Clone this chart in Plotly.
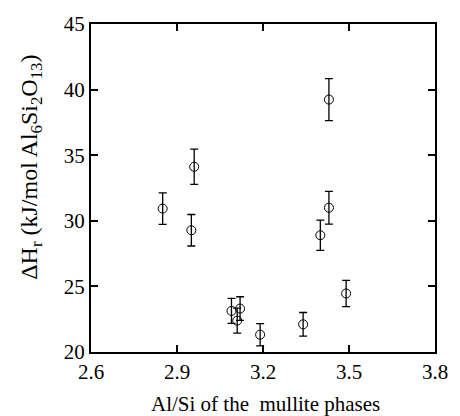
import plotly.graph_objects as go

al_si = [2.85, 2.96, 2.95, 3.09, 3.11, 3.12, 3.19, 3.34, 3.40, 3.43, 3.43, 3.49]
dh_r = [30.93, 34.12, 29.28, 23.13, 22.39, 23.31, 21.32, 22.11, 28.9, 31.0, 39.24, 24.46]
err = [1.2, 1.35, 1.2, 0.95, 0.95, 0.9, 0.85, 0.9, 1.15, 1.25, 1.6, 1.0]

x_ticks = [2.6, 2.9, 3.2, 3.5, 3.8]
y_ticks = [20, 25, 30, 35, 40, 45]

x_title = "Al/Si of the  mullite phases"
y_title = "ΔH<sub>r</sub> (kJ/mol Al<sub>6</sub>Si<sub>2</sub>O<sub>13</sub>)"

font = "Liberation Serif, Times New Roman, serif"

fig = go.Figure()
fig.add_trace(go.Scatter(
    x=al_si, y=dh_r, mode="markers",
    marker=dict(symbol="circle-open", size=9, color="black", line=dict(width=1, color="black")),
    error_y=dict(type="data", array=err, visible=True, color="black", thickness=1.3, width=4),
    showlegend=False, cliponaxis=False,
))

axis_common = dict(
    showline=True, linecolor="black", linewidth=2, mirror="ticks",
    ticks="inside", ticklen=7, tickwidth=2, tickcolor="black",
    showgrid=False, zeroline=False,
    tickfont=dict(family=font, size=21, color="black"),
)

fig.update_layout(
    width=460, height=416,
    margin=dict(l=91, r=16, t=20, b=64),
    paper_bgcolor="white", plot_bgcolor="white",
    font=dict(family=font, color="black"),
    xaxis=dict(range=[2.6, 3.8], tickvals=x_ticks, ticktext=[f"{v:.1f}" for v in x_ticks],
               **axis_common),
    yaxis=dict(range=[20, 45], tickvals=y_ticks, **axis_common),
    annotations=[
        dict(text=y_title, xref="paper", yref="paper", x=-0.173, y=0.563,
             xanchor="center", yanchor="middle", textangle=-90, showarrow=False,
             font=dict(family=font, size=24, color="black")),
        dict(text=x_title, xref="paper", yref="paper", x=0.507, y=-0.16,
             xanchor="center", yanchor="middle", showarrow=False,
             font=dict(family=font, size=21, color="black")),
    ],
)

fig.write_html("out.html")
